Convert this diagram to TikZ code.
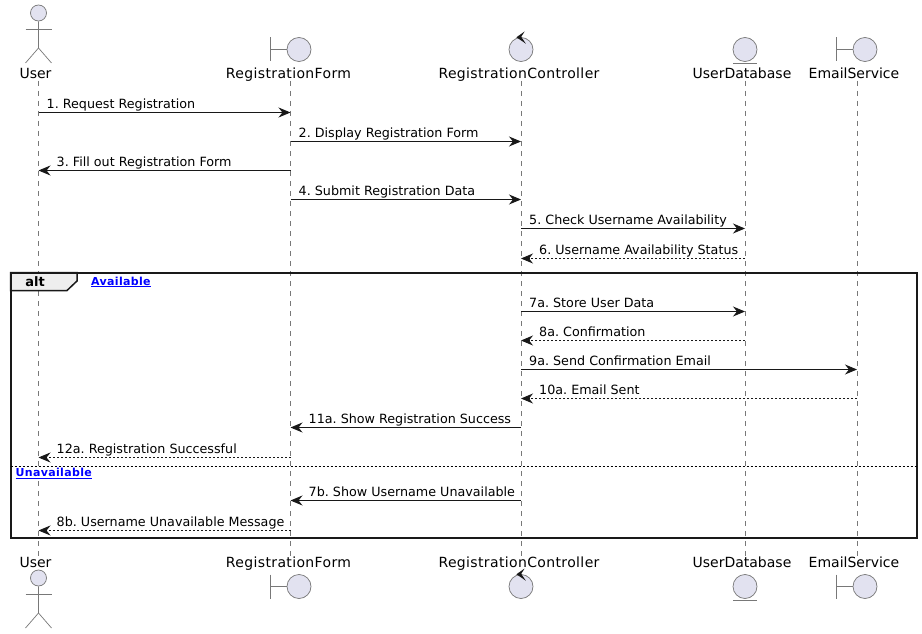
\documentclass[tikz,border=0pt]{standalone}
\usepackage{fontspec}
\setmainfont{DejaVu Sans}
\usetikzlibrary{arrows.meta,calc}
\definecolor{ink}{HTML}{181818}
\definecolor{softline}{HTML}{787878}
\definecolor{partfill}{HTML}{E2E2F0}
\definecolor{tabfill}{HTML}{EEEEEE}
\definecolor{linkblue}{HTML}{0000FF}
\tikzset{
  lifeline/.style={draw=softline,line width=0.6pt,dash pattern=on 5pt off 5pt},
  glyph/.style={draw=softline,line width=0.7pt},
  glyphfill/.style={draw=softline,line width=0.7pt,fill=partfill},
  tip/.style={-{Stealth[length=12pt,width=10pt,inset=4pt,color=ink]}},
  call/.style={draw=ink,line width=0.9pt,tip},
  reply/.style={draw=ink,line width=0.8pt,dash pattern=on 2pt off 2pt,tip},
  partname/.style={inner sep=0pt,anchor=base,font=\fontsize{14}{16}\selectfont,text=black},
  widename/.style={partname,font=\fontsize{14}{16}\selectfont\addfontfeature{LetterSpace=2.6}},
  msgtext/.style={inner sep=0pt,anchor=base west,font=\fontsize{12.72}{15}\selectfont\frenchspacing,text=black},
  guard/.style={inner sep=0pt,anchor=base west,font=\fontsize{11}{13}\selectfont\bfseries\addfontfeature{LetterSpace=3},text=linkblue},
  framebox/.style={draw=black!90,line width=2pt},
}
\newcommand{\boundaryglyph}[3]{% bar x, y, name
  \draw[glyph] (#1,#2-12) -- (#1,#2+12);
  \draw[glyph] (#1,#2) -- (#1+17,#2);
  \node[glyphfill,circle,minimum size=24pt,inner sep=0pt] (#3) at (#1+29,#2) {};
}
\newcommand{\controlglyph}[3]{%
  \node[glyphfill,circle,minimum size=24pt,inner sep=0pt] (#3) at (#1,#2) {};
  \fill[ink] (#1+3.6,#2-18) -- (#1-4.6,#2-12.2) -- (#1+4.9,#2-5.8) -- (#1+0.2,#2-12.6) -- cycle;
}
\newcommand{\entityglyph}[3]{%
  \node[glyphfill,circle,minimum size=24pt,inner sep=0pt] (#3) at (#1,#2) {};
  \draw[glyph] (#1-12,#2+14) -- (#1+12,#2+14);
}
\newcommand{\actorglyph}[3]{%
  \node[glyphfill,circle,minimum size=16pt,inner sep=0pt] (#3) at (#1,#2) {};
  \draw[glyph] (#3.south) -- (#1,#2+35) -- (#1-13,#2+50);
  \draw[glyph] (#1,#2+35) -- (#1+13,#2+50);
  \draw[glyph] (#1-13,#2+16) -- (#1+13,#2+16);
}
\begin{document}
\begin{tikzpicture}[x=1pt,y=-1pt]
\useasboundingbox (0,0) rectangle (922,634);
\fill[white] (0,0) rectangle (922,634);
% lifelines
\coordinate (uT) at (38.5,81); \coordinate (uB) at (38.5,556);
\coordinate (fT) at (290.5,81); \coordinate (fB) at (290.5,556);
\coordinate (cT) at (521,81); \coordinate (cB) at (521,556);
\coordinate (dT) at (745,81); \coordinate (dB) at (745,556);
\coordinate (eT) at (857,81); \coordinate (eB) at (857,556);
\foreach \l in {u,f,c,d,e} \draw[lifeline] (\l T) -- (\l B);
% frame
\draw[framebox,fill=tabfill,line width=1.5pt] (10.5,272.5) -- (77,272.5) -- (77,281) -- (67,290.5) -- (10.5,290.5) -- cycle;
\draw[framebox] (10.5,272.5) rectangle (917,538.2);
\node[inner sep=0pt,anchor=base,font=\fontsize{13}{15}\selectfont\bfseries] (altlabel) at (35,286) {alt};
\node[guard] (g1) at (91,285) {\underline{Available}};
\draw[draw=black,line width=0.8pt,dash pattern=on 2pt off 2pt] (10.5,466.5) -- (917,466.5);
\node[guard] (g2) at (15.5,476.5) {\underline{Unavailable}};
% participants top
\actorglyph{38.5}{13}{userT}
\boundaryglyph{270}{49.5}{formT}
\controlglyph{521}{49.5}{ctrlT}
\entityglyph{745}{49.5}{dbT}
\boundaryglyph{836}{49.5}{mailT}
\node[partname] (n1) at (35.5,78) {User};
\node[widename] (n2) at (288.5,78) {RegistrationForm};
\node[widename] (n3) at (519,78) {RegistrationController};
\node[partname] (n4) at (742,78) {UserDatabase};
\node[partname] (n5) at (854,78) {EmailService};
% participants bottom
\actorglyph{38.5}{578}{userB}
\boundaryglyph{270}{586.5}{formB}
\controlglyph{521}{586.5}{ctrlB}
\entityglyph{745}{586.5}{dbB}
\boundaryglyph{836}{586.5}{mailB}
\node[partname] (b1) at (35.5,567) {User};
\node[widename] (b2) at (288.5,567) {RegistrationForm};
\node[widename] (b3) at (519,567) {RegistrationController};
\node[partname] (b4) at (742,567) {UserDatabase};
\node[partname] (b5) at (854,567) {EmailService};
% messages
\newcommand{\M}[7]{% style, from, to, y, end, name, text
  \coordinate (#6a) at (#2T |- 0,#4);
  \coordinate (#6b) at (#3T |- 0,#4);
  \draw[#1] (#6a) -- (#6b);
  \node[msgtext] (#6t) at ($(#6#5)+(8,-4.2)$) {#7};
}
\newcommand{\N}[7]{% text starting after the arrow head at the target
  \coordinate (#6a) at (#2T |- 0,#4);
  \coordinate (#6b) at (#3T |- 0,#4);
  \draw[#1] (#6a) -- (#6b);
  \node[msgtext] (#6t) at ($(#6#5)+(18,-4.2)$) {#7};
}
\M{call}{u}{f}{112.5}{a}{m1}{1. Request Registration}
\M{call}{f}{c}{141.5}{a}{m2}{2. Display Registration Form}
\N{call}{f}{u}{170.5}{b}{m3}{3. Fill out Registration Form}
\M{call}{f}{c}{199.5}{a}{m4}{4. Submit Registration Data}
\M{call}{c}{d}{228.5}{a}{m5}{5. Check Username Availability}
\N{reply}{d}{c}{258.5}{b}{m6}{6. Username Availability Status}
\M{call}{c}{d}{311.5}{a}{m7}{7a. Store User Data}
\N{reply}{d}{c}{340.5}{b}{m8}{8a. Confirmation}
\M{call}{c}{e}{369.5}{a}{m9}{9a. Send Confirmation Email}
\N{reply}{e}{c}{398.5}{b}{m10}{10a. Email Sent}
\N{call}{c}{f}{427.5}{b}{m11}{11a. Show Registration Success}
\N{reply}{f}{u}{457.5}{b}{m12}{12a. Registration Successful}
\N{call}{c}{f}{500.5}{b}{m13}{7b. Show Username Unavailable}
\N{reply}{f}{u}{530.5}{b}{m14}{8b. Username Unavailable Message}
\end{tikzpicture}
\end{document}
